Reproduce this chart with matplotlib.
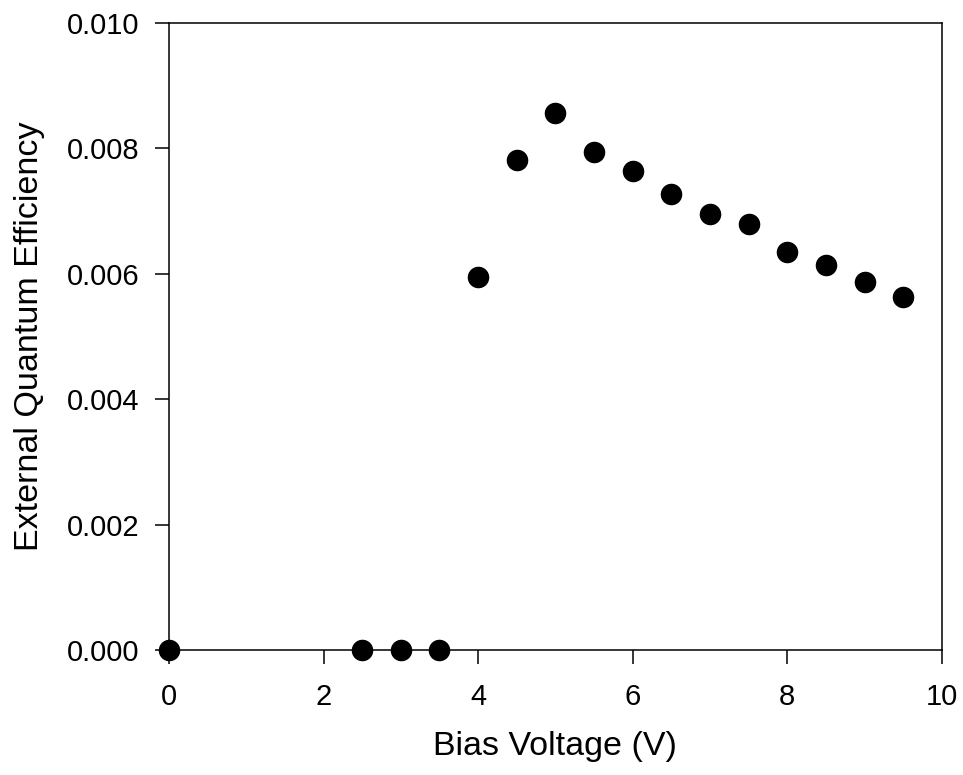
import matplotlib.pyplot as plt

plt.rcParams['font.family'] = ['Liberation Sans', 'DejaVu Sans']

# Data
bias_voltage = [0, 2.5, 3, 3.5, 4, 4.5, 5, 5.5, 6, 6.5, 7, 7.5, 8, 8.5, 9, 9.5]
eqe = [0.0, 0.0, 0.0, 0.0, 0.00595, 0.00781, 0.00856, 0.00794, 0.00764, 0.00727,
       0.00695, 0.00679, 0.00635, 0.00614, 0.00587, 0.00563]
x_ticks = [0, 2, 4, 6, 8, 10]
y_ticks = [0.000, 0.002, 0.004, 0.006, 0.008, 0.010]

fig = plt.figure(figsize=(9.63, 7.75), dpi=100)
ax = fig.add_axes([0.1755, 0.1613, 0.8025, 0.809])

ax.plot(bias_voltage, eqe, 'o', color='black', markersize=14.5, clip_on=False, zorder=5)

ax.set_xlim(0, 10)
ax.set_ylim(0, 0.010)
ax.set_xticks(x_ticks)
ax.set_yticks(y_ticks)
ax.set_yticklabels([f"{v:.3f}" for v in y_ticks])

ax.tick_params(direction='out', length=10, width=1.1, labelsize=21,
               top=False, right=False)
ax.tick_params(axis='x', pad=14)
ax.tick_params(axis='y', pad=11)
for s in ax.spines.values():
    s.set_linewidth(1.1)

ax.set_xlabel("Bias Voltage (V)", fontsize=24.5, labelpad=14)
ax.set_ylabel("External Quantum Efficiency", fontsize=24.5, labelpad=16)

fig.savefig("out.png", dpi=100)
